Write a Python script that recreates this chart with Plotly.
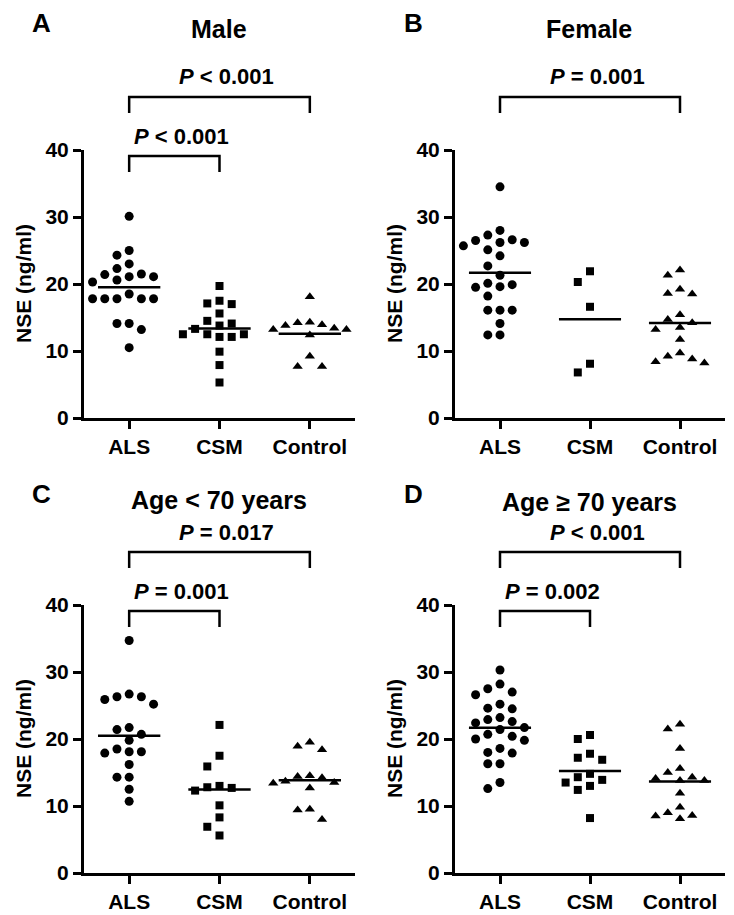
import numpy as np
import plotly.graph_objects as go

W, H = 734, 915
OFF = 8  # page body margin in the browser
FONT = "Liberation Sans, Arial, Helvetica, sans-serif"

groups = ["ALS", "CSM", "Control"]
y_tick_vals = [0, 10, 20, 30, 40]
y_title = "NSE (ng/ml)"

# ---- data (NSE, ng/ml) ----
male_als = [30.1, 25.0, 24.3, 23.0, 22.3, 21.1, 21.5, 20.6, 20.3, 21.1, 21.4,
            17.8, 17.8, 17.8, 18.5, 17.8, 17.8, 14.1, 14.1, 13.2, 10.5]
male_csm = [19.7, 17.1, 17.0, 17.5, 15.6, 14.5, 14.1, 13.8, 13.3, 12.5, 12.1,
            12.1, 12.5, 12.5, 9.9, 7.9, 5.3]
male_ctrl = [18.1, 13.4, 14.2, 13.9, 13.2, 14.3, 13.2, 13.8, 12.4, 9.2, 7.7, 7.7]

female_als = [34.5, 28.0, 27.3, 26.5, 26.2, 26.6, 25.7, 26.2, 25.1, 24.2, 22.7,
              21.3, 19.9, 19.5, 20.1, 19.6, 18.2, 16.1, 16.1, 16.1, 14.1, 12.4, 12.4]
female_csm = [21.9, 20.3, 16.6, 8.1, 6.8]
female_ctrl = [22.1, 21.3, 19.2, 18.6, 18.5, 15.4, 14.7, 14.2, 13.2, 13.5, 11.7,
               9.7, 8.8, 8.2, 8.4, 9.2]

young_als = [34.7, 26.3, 25.9, 25.2, 26.3, 26.7, 21.7, 21.4, 20.7, 19.8, 18.1,
             18.1, 18.5, 17.9, 16.2, 14.3, 14.3, 12.5, 10.7]
young_csm = [22.1, 17.5, 15.9, 13.0, 12.8, 12.3, 12.7, 10.1, 8.3, 6.9, 5.6]
young_ctrl = [19.5, 18.4, 18.9, 13.7, 13.4, 14.4, 14.5, 12.7, 13.5, 14.2, 9.5, 9.4, 8.0]

old_als = [30.3, 28.2, 27.5, 27.0, 26.6, 25.2, 24.5, 24.6, 22.9, 22.6, 23.2, 22.4,
           21.7, 21.4, 20.7, 20.0, 19.8, 20.4, 18.6, 18.0, 17.9, 16.3, 16.3, 13.5, 12.6]
old_csm = [20.6, 20.0, 17.2, 16.9, 17.8, 14.8, 13.9, 13.0, 12.4, 13.5, 14.3, 8.2]
old_ctrl = [22.2, 21.5, 18.6, 15.6, 15.0, 13.8, 14.1, 14.3, 13.8, 11.9, 9.8, 8.6,
            8.1, 8.5, 9.0]

panel_letters = ["A", "B", "C", "D"]
panel_titles = ["Male", "Female", "Age &lt; 70 years", "Age ≥ 70 years"]
panel_data = [
    [male_als, male_csm, male_ctrl],
    [female_als, female_csm, female_ctrl],
    [young_als, young_csm, young_ctrl],
    [old_als, old_csm, old_ctrl],
]
# comparisons: (group a, group b, italic part, rest, level) level 1 = upper, 0 = lower
panel_comps = [
    [(0, 2, "P", "&lt; 0.001", 1), (0, 1, "P", "&lt; 0.001", 0)],
    [(0, 2, "P", "= 0.001", 1)],
    [(0, 2, "P", "= 0.017", 1), (0, 1, "P", "= 0.001", 0)],
    [(0, 2, "P", "&lt; 0.001", 1), (0, 1, "P", "= 0.002", 0)],
]

# ---- layout geometry (reference pixels) ----
cols = [(84, 355), (455, 725)]
rows = [(150, 418), (605, 873)]
panel_boxes = [(cols[0], rows[0]), (cols[1], rows[0]), (cols[0], rows[1]), (cols[1], rows[1])]
title_y = [29, 29, 500, 502]
letter_pos = [(41, 23), (413, 23), (41, 494), (413, 494)]
XR = (-0.5, 2.5)
YR = (0, 40)
symbols = ["circle", "square", "triangle-up"]
sizes = [9, 8, 9]


def fx(px):
    return (px - OFF) / W


def fy(py):
    return 1 - (py - OFF) / H


def swarm(vals, px_per_x, px_per_y, slot_px=12.2, min_dy=11.0):
    vals = np.asarray(vals, dtype=float)
    order = np.argsort(-vals, kind="stable")
    placed = []
    offs = np.zeros(len(vals))
    for i in order:
        yp = vals[i] * px_per_y
        for k in [0, -1, 1, -2, 2, -3, 3, -4, 4, -5, 5]:
            if all(not (s == k and abs(yp - q) < min_dy) for s, q in placed):
                break
        placed.append((k, yp))
        offs[i] = k * slot_px / px_per_x
    return offs


fig = go.Figure()
annotations = []
shapes = []

for p in range(4):
    (x0, x1), (y0, y1) = panel_boxes[p]
    sfx = "" if p == 0 else str(p + 1)
    xa, ya = "x" + sfx, "y" + sfx
    px_per_x = (x1 - x0) / (XR[1] - XR[0])
    px_per_y = (y1 - y0) / (YR[1] - YR[0])

    def cat_px(c):
        return x0 + (c - XR[0]) * px_per_x

    for g, vals in enumerate(panel_data[p]):
        offs = swarm(vals, px_per_x, px_per_y)
        fig.add_trace(go.Scatter(
            x=g + offs, y=vals, mode="markers", xaxis=xa, yaxis=ya,
            marker=dict(symbol=symbols[g], size=sizes[g], color="black",
                        line=dict(width=0)),
            cliponaxis=False, showlegend=False, hoverinfo="y"))
        m = float(np.mean(vals))
        fig.add_trace(go.Scatter(
            x=[g - 0.345, g + 0.345], y=[m, m], mode="lines", xaxis=xa, yaxis=ya,
            line=dict(color="black", width=2.5), showlegend=False, hoverinfo="skip"))

    axkw = dict(showline=True, linewidth=3, linecolor="black", ticks="outside",
                tickwidth=3, ticklen=8, tickcolor="black", showgrid=False,
                zeroline=False, fixedrange=True, automargin=False)
    fig.update_layout({
        ("xaxis" + sfx): dict(domain=[fx(x0), fx(x1)], range=list(XR), anchor=ya,
                              tickvals=[0, 1, 2], ticktext=groups,
                              tickfont=dict(family=FONT, size=21, color="black", weight="bold"),
                              **axkw),
        ("yaxis" + sfx): dict(domain=[fy(y1), fy(y0)], range=list(YR), anchor=xa,
                              tickvals=y_tick_vals,
                              tickfont=dict(family=FONT, size=21, color="black", weight="bold"),
                              **axkw),
    })

    # axis title
    annotations.append(dict(x=fx(x0 - 61), y=fy((y0 + y1) / 2), xref="paper", yref="paper",
                            text="<b>" + y_title + "</b>", textangle=-90, showarrow=False,
                            font=dict(family=FONT, size=21, color="black"),
                            xanchor="center", yanchor="middle"))
    # panel title
    annotations.append(dict(x=fx((cat_px(0) + cat_px(2)) / 2 - 1), y=fy(title_y[p]),
                            xref="paper", yref="paper",
                            text="<b>" + panel_titles[p] + "</b>", showarrow=False,
                            font=dict(family=FONT, size=25, color="black"),
                            xanchor="center", yanchor="middle"))
    # panel letter
    lx, ly = letter_pos[p]
    annotations.append(dict(x=fx(lx), y=fy(ly), xref="paper", yref="paper",
                            text="<b>" + panel_letters[p] + "</b>", showarrow=False,
                            font=dict(family=FONT, size=26, color="black"),
                            xanchor="center", yanchor="middle"))
    # significance brackets
    for (a, b, pl, rest, level) in panel_comps[p]:
        if level == 1:
            by, drop, ty = y0 - 53, y0 - 37, y0 - 73
        else:
            by, drop, ty = y0 + 6, y0 + 22, y0 - 14
        xa_px, xb_px = cat_px(a), cat_px(b)
        shapes.append(dict(type="path", xref="paper", yref="paper",
                           path="M %f %f L %f %f L %f %f L %f %f" % (
                               fx(xa_px), fy(drop), fx(xa_px), fy(by),
                               fx(xb_px), fy(by), fx(xb_px), fy(drop)),
                           line=dict(color="black", width=2.5)))
        annotations.append(dict(x=fx((xa_px + xb_px) / 2 + 7), y=fy(ty),
                                xref="paper", yref="paper",
                                text="<b><i>" + pl + "</i> " + rest + "</b>", showarrow=False,
                                font=dict(family=FONT, size=22, color="black"),
                                xanchor="center", yanchor="middle"))

fig.update_layout(width=W, height=H, margin=dict(l=0, r=0, t=0, b=0),
                  paper_bgcolor="white", plot_bgcolor="white",
                  annotations=annotations, shapes=shapes, showlegend=False)

fig.write_html("out.html")
